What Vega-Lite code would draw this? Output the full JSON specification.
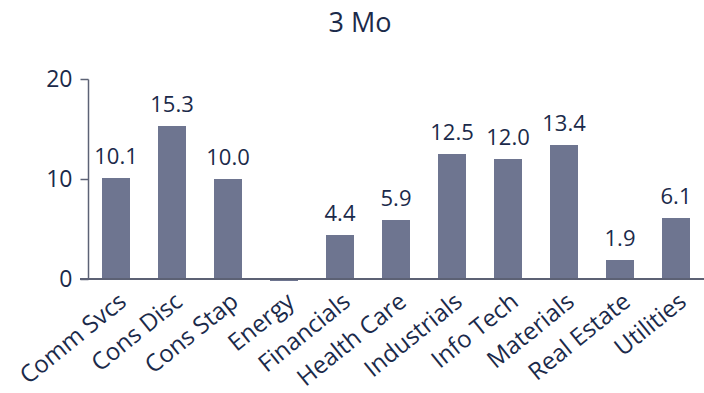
{
  "$schema": "https://vega.github.io/schema/vega-lite/v6.json",
  "width": 616,
  "height": 200,
  "autosize": "none",
  "padding": {"left": 88, "top": 79, "right": 0, "bottom": 114},
  "background": "white",
  "config": {"view": {"stroke": null}, "font": "Open Sans"},
  "title": {"text": "3 Mo", "fontSize": 27, "fontWeight": "normal", "color": "#1b2a4a", "anchor": "middle", "dx": -36, "offset": 30},
  "data": {"values": [
    {"sector": "Comm Svcs", "value": 10.1, "label": "10.1"},
    {"sector": "Cons Disc", "value": 15.3, "label": "15.3"},
    {"sector": "Cons Stap", "value": 10.0, "label": "10.0"},
    {"sector": "Energy", "value": -0.2, "label": ""},
    {"sector": "Financials", "value": 4.4, "label": "4.4"},
    {"sector": "Health Care", "value": 5.9, "label": "5.9"},
    {"sector": "Industrials", "value": 12.5, "label": "12.5"},
    {"sector": "Info Tech", "value": 12.0, "label": "12.0"},
    {"sector": "Materials", "value": 13.4, "label": "13.4"},
    {"sector": "Real Estate", "value": 1.9, "label": "1.9"},
    {"sector": "Utilities", "value": 6.1, "label": "6.1"}
  ]},
  "encoding": {
    "x": {"field": "sector", "type": "nominal", "sort": null,
      "scale": {"paddingInner": 0.5, "paddingOuter": 0.25},
      "axis": {"title": null, "labelAngle": -39, "labelFontSize": 24, "labelColor": "#1b2a4a", "ticks": false, "domain": false, "labelPadding": 10, "labelOverlap": false, "labelBound": false}},
    "y": {"field": "value", "type": "quantitative",
      "scale": {"domain": [0, 20], "nice": false, "clamp": false},
      "axis": {"title": null, "values": [0, 10, 20], "grid": false, "labelFontSize": 23, "labelColor": "#1b2a4a", "domainColor": "#5c6275", "tickColor": "#5c6275", "domainWidth": 1.5, "tickWidth": 1.5, "tickSize": 8, "labelPadding": 8}}
  },
  "layer": [
    {"mark": {"type": "bar", "color": "#6e7590", "clip": false}},
    {"mark": {"type": "rule", "color": "#5c6275", "strokeWidth": 1.5, "x": -8, "x2": 616}, "encoding": {"x": null, "y": {"datum": 0}}},
    {"mark": {"type": "text", "dy": -21, "fontSize": 22, "color": "#1b2a4a"}, "encoding": {"text": {"field": "label"}}}
  ]
}
